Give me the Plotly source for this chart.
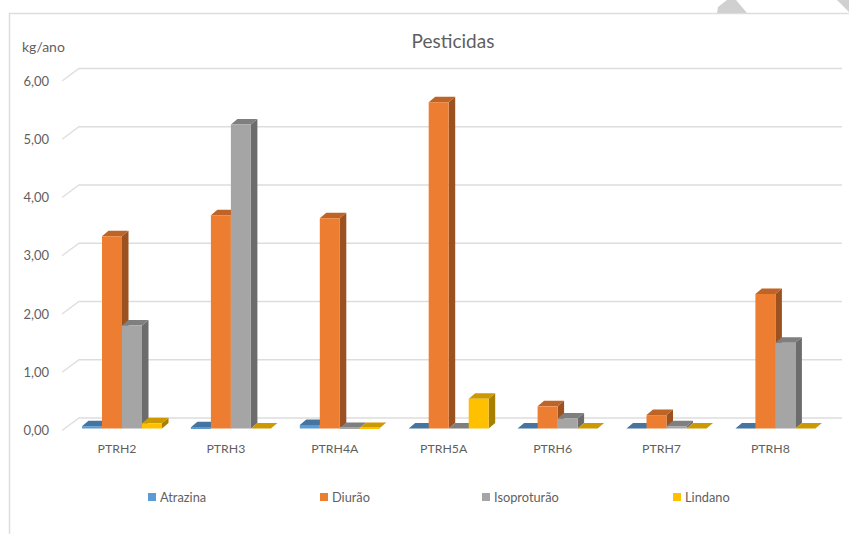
import plotly.graph_objects as go

# Annual pesticide loads per river-basin unit (kg/ano)
categories = ["PTRH2", "PTRH3", "PTRH4A", "PTRH5A", "PTRH6", "PTRH7", "PTRH8"]
atrazina = [0.04, 0.02, 0.06, 0.0, 0.0, 0.0, 0.0]
diurao = [3.30, 3.66, 3.61, 5.60, 0.38, 0.23, 2.31]
isoproturao = [1.77, 5.22, 0.01, 0.0, 0.17, 0.04, 1.47]
lindano = [0.09, 0.0, 0.01, 0.51, 0.0, 0.0, 0.0]
y_ticks = [0, 1, 2, 3, 4, 5, 6]

W, H = 849, 534
PLOT_L, PLOT_R, PLOT_T, PLOT_B = 62, 842, 50, 440
UNIT_X, UNIT_Y = 108.9, 58.25          # pixels per category / per kg
GROUP0_PX = 122                         # centre of the first bar group
ZERO_AXIS_PX, ZERO_BAR_PX = 430.5, 428.5
BAR_W = 20 / UNIT_X
DEPTH_X, DEPTH_Y = 6.5 / UNIT_X, 5.5 / UNIT_Y
WALL_X, WALL_Y = 17 / UNIT_X, 12.5 / UNIT_Y

x_lo = -(GROUP0_PX - PLOT_L) / UNIT_X
x_hi = x_lo + (PLOT_R - PLOT_L) / UNIT_X
y_range_axis = [(ZERO_AXIS_PX - PLOT_B) / UNIT_Y, (ZERO_AXIS_PX - PLOT_T) / UNIT_Y]
y_range_bars = [(ZERO_BAR_PX - PLOT_B) / UNIT_Y, (ZERO_BAR_PX - PLOT_T) / UNIT_Y]

series = [
    ("Atrazina", atrazina, "#5B9BD5", "#44749F", "#3A6690"),
    ("Diurão", diurao, "#ED7D31", "#BE6427", "#9C5220"),
    ("Isoproturão", isoproturao, "#A5A5A5", "#7F7F7F", "#6C6C6C"),
    ("Lindano", lindano, "#FFC000", "#CC9A00", "#A88000"),
]
TEXT = "#5F5F5F"
FONT = "Lato"
GRID = "#DDDDDD"

fig = go.Figure()


def px_x(px):
    return (px - PLOT_L) / (PLOT_R - PLOT_L)


def px_y(px):
    return (PLOT_B - px) / (PLOT_B - PLOT_T)


# Back wall and left wall gridlines
gx, gy = [], []
for v in y_ticks:
    gx += [x_lo, x_lo + WALL_X, x_hi, None]
    gy += [v, v + WALL_Y, v + WALL_Y, None]
fig.add_trace(go.Scatter(x=gx, y=gy, mode="lines", line=dict(color=GRID, width=1.3),
                         hoverinfo="skip", showlegend=False, cliponaxis=False))

n = len(series)
# Top and side faces of the columns, painted series by series beneath the fronts
for s, (name, values, front, top, side) in enumerate(series):
    tx, ty, sx, sy = [], [], [], []
    for i, v in enumerate(values):
        x0 = i + (s - n / 2) * BAR_W
        x1 = x0 + BAR_W
        tx += [x0, x1, x1 + DEPTH_X, x0 + DEPTH_X, x0, None]
        ty += [v, v, v + DEPTH_Y, v + DEPTH_Y, v, None]
        sx += [x1, x1 + DEPTH_X, x1 + DEPTH_X, x1, x1, None]
        sy += [0, DEPTH_Y, v + DEPTH_Y, v, 0, None]
    for fx, fy, col in ((sx, sy, side), (tx, ty, top)):
        fig.add_trace(go.Scatter(x=fx, y=fy, mode="lines", fill="toself", fillcolor=col,
                                 line=dict(width=0, color=col), hoverinfo="skip",
                                 showlegend=False, xaxis="x2", yaxis="y2"))

# Front faces
for name, values, front, top, side in series:
    fig.add_trace(go.Bar(x=list(range(len(categories))), y=values, name=name, width=BAR_W,
                         marker=dict(color=front, line=dict(width=0)), offsetgroup=name,
                         showlegend=False, xaxis="x3", yaxis="y3"))

# One legend per series so each entry keeps its own position; the swatches sit
# close to the text, which the legend's own key column does not allow
legend_swatch_px = [148, 320, 482, 673]
LEGEND_Y = 497
legends = {}
swatches = []
for k, ((name, values, front, top, side), lx) in enumerate(zip(series, legend_swatch_px)):
    key = "legend" if k == 0 else f"legend{k + 1}"
    fig.add_trace(go.Scatter(x=[None], y=[None], mode="markers", name=name,
                             marker=dict(symbol="square", size=8, color="rgba(0,0,0,0)",
                                         line=dict(width=0)),
                             legend=key, showlegend=True))
    legends[key] = dict(x=(lx + 12 - 40) / W, y=1 - LEGEND_Y / H, xref="container", yref="container",
                        xanchor="left", yanchor="middle", bgcolor="rgba(0,0,0,0)",
                        font=dict(family=FONT, size=12.8, color=TEXT), itemwidth=30,
                        borderwidth=0)
    swatches.append(dict(type="rect", xref="paper", yref="paper", fillcolor=front,
                         line=dict(width=0), x0=px_x(lx), x1=px_x(lx + 8),
                         y0=px_y(LEGEND_Y + 4), y1=px_y(LEGEND_Y - 4)))

hidden = dict(visible=False, fixedrange=True)
fig.update_layout(
    width=W, height=H, autosize=False,
    margin=dict(l=PLOT_L, r=W - PLOT_R, t=PLOT_T, b=H - PLOT_B, pad=0, autoexpand=False),
    paper_bgcolor="white", plot_bgcolor="rgba(0,0,0,0)",
    separators=",.",
    barmode="group", bargap=1 - n * BAR_W, bargroupgap=0,
    font=dict(family=FONT, size=12, color=TEXT),
    title=dict(text="Pesticidas", x=453 / W, xanchor="center", xref="container",
               y=1 - 41 / H, yanchor="middle", yref="container",
               font=dict(family=FONT, size=19, color=TEXT)),
    xaxis=dict(range=[x_lo, x_hi], tickmode="array",
               tickvals=[i - 5 / UNIT_X for i in range(len(categories))], ticktext=categories,
               showgrid=False, zeroline=False, showline=False, ticks="",
               ticklabelstandoff=0, fixedrange=True, tickfont=dict(size=12.3)),
    yaxis=dict(range=y_range_axis, tickmode="array", tickvals=y_ticks, tickformat=".2f",
               showgrid=False, zeroline=False, showline=False, ticks="",
               ticklabelstandoff=12, fixedrange=True, tickfont=dict(size=13)),
    xaxis2=dict(range=[x_lo, x_hi], overlaying="x", **hidden),
    yaxis2=dict(range=y_range_bars, overlaying="y", **hidden),
    xaxis3=dict(range=[x_lo, x_hi], overlaying="x", **hidden),
    yaxis3=dict(range=y_range_bars, overlaying="y", **hidden),
    annotations=[dict(text="kg/ano", xref="paper", yref="paper", x=px_x(22), y=px_y(46),
                      xanchor="left", yanchor="middle", showarrow=False, xshift=-2,
                      font=dict(family=FONT, size=14, color=TEXT))],
    shapes=[
        # chart frame, open on the sides cut off by the page edge
        dict(type="path", xref="paper", yref="paper", layer="below",
             path=f"M{px_x(9.5)},{px_y(H)} L{px_x(9.5)},{px_y(13.5)} L{px_x(W)},{px_y(13.5)}",
             line=dict(color="#DDDDDD", width=1.5)),
        # strokes crossing the page corner
        dict(type="path", xref="paper", yref="paper", layer="below",
             path=(f"M{px_x(717)},{px_y(13)} L{px_x(718)},{px_y(7)} L{px_x(727)},{px_y(0)} "
                   f"L{px_x(736)},{px_y(0)} L{px_x(747)},{px_y(13)} Z"),
             fillcolor="#D0D0D0", line=dict(width=0)),
        dict(type="path", xref="paper", yref="paper", layer="below",
             path=f"M{px_x(837)},{px_y(0)} L{px_x(849)},{px_y(0)} L{px_x(849)},{px_y(12)} Z",
             fillcolor="#D0D0D0", line=dict(width=0)),
    ] + swatches,
    **legends,
)

fig.write_html("out.html", config=dict(displayModeBar=False))
